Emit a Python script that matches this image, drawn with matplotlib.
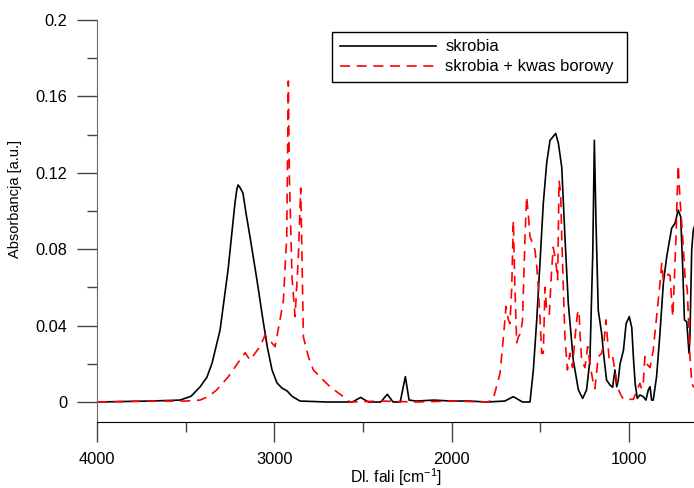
import numpy as np
import matplotlib
matplotlib.use("Agg")
import matplotlib.pyplot as plt
from matplotlib.ticker import FixedLocator, FuncFormatter

plt.rcParams['font.family'] = ['Liberation Sans', 'DejaVu Sans']
plt.rcParams['mathtext.default'] = 'regular'

# widmo skrobi (liczba falowa [cm-1], absorbancja)
wn_skrobia = [4000, 3701, 3600, 3532, 3470, 3419, 3380, 3351, 3306, 3261, 3240,
              3222, 3212, 3205, 3195, 3177, 3160, 3137, 3098, 3064, 3040, 3013,
              2985, 2957, 2928, 2900, 2855, 2700, 2560, 2513, 2470, 2400, 2363,
              2330, 2290, 2261, 2240, 2200, 2100, 2000, 1900, 1800, 1700, 1652,
              1600, 1558, 1539, 1520, 1501, 1483, 1464, 1445, 1427, 1413, 1398,
              1379, 1361, 1342, 1314, 1285, 1261, 1239, 1220, 1204, 1195, 1186,
              1173, 1154, 1145, 1135, 1126, 1107, 1092, 1079, 1069, 1060, 1050,
              1031, 1016, 998, 984, 975, 965, 953, 938, 919, 904, 891, 881, 872,
              863, 844, 825, 806, 787, 759, 740, 722, 708, 697, 687, 674, 661,
              656, 646, 637, 630]
abs_skrobia = [0.0, 0.0005, 0.0008, 0.001, 0.003, 0.0079, 0.013, 0.0204, 0.0377,
               0.0691, 0.088, 0.1042, 0.111, 0.1136, 0.1125, 0.1094, 0.099, 0.0864,
               0.0639, 0.0429, 0.029, 0.0168, 0.010, 0.0073, 0.0058, 0.003,
               0.0005, 0.0, 0.0, 0.0024, 0.0, 0.0, 0.004, 0.0, 0.0, 0.0133, 0.001,
               0.0005, 0.001, 0.0005, 0.0005, 0.0, 0.0005, 0.0028, 0.0, 0.0,
               0.0168, 0.043, 0.074, 0.104, 0.125, 0.137, 0.139, 0.1406, 0.1355,
               0.123, 0.0866, 0.0517, 0.022, 0.0063, 0.0019, 0.0063, 0.022, 0.078,
               0.137, 0.095, 0.048, 0.036, 0.027, 0.0185, 0.0115, 0.0089, 0.0077,
               0.0168, 0.008, 0.0115, 0.020, 0.027, 0.041, 0.0447, 0.039, 0.0237,
               0.0098, 0.0019, 0.0037, 0.0028, 0.001, 0.0063, 0.008, 0.001, 0.001,
               0.0133, 0.036, 0.062, 0.076, 0.091, 0.0936, 0.1005, 0.097, 0.071,
               0.043, 0.042, 0.0255, 0.034, 0.0796, 0.090, 0.092]

# widmo skrobi z kwasem borowym
wn_kwas = [4000, 3701, 3500, 3419, 3370, 3325, 3259, 3194, 3165, 3137, 3081, 3052,
           2996, 2968, 2949, 2930, 2921, 2915, 2900, 2883, 2865, 2851, 2836, 2808,
           2780, 2730, 2686, 2611, 2573, 2400, 2200, 2000, 1800, 1767, 1727,
           1708, 1693, 1680, 1671, 1661, 1652, 1643, 1633, 1624, 1611, 1600,
           1586, 1577, 1568, 1558, 1543, 1530, 1520, 1511, 1501, 1492, 1483,
           1473, 1464, 1449, 1436, 1427, 1413, 1402, 1394, 1385, 1379, 1370,
           1361, 1347, 1333, 1318, 1304, 1291, 1282, 1276, 1267, 1248, 1233,
           1220, 1201, 1192, 1173, 1154, 1141, 1130, 1122, 1111, 1101, 1092,
           1079, 1066, 1050, 1031, 975, 938, 929, 919, 910, 900, 881, 863, 844,
           825, 815, 806, 791, 778, 768, 759, 753, 746, 734, 727, 722, 712, 697,
           684, 671, 665, 656, 645, 637, 630]
abs_kwas = [0.0, 0.0005, 0.0005, 0.001, 0.003, 0.0063, 0.0133, 0.022, 0.0258, 0.022,
            0.029, 0.035, 0.029, 0.043, 0.053, 0.0866, 0.168, 0.118, 0.065,
            0.0447, 0.075, 0.112, 0.034, 0.0237, 0.0168, 0.012, 0.008, 0.0028,
            0.0, 0.0005, 0.0, 0.0005, 0.0, 0.001, 0.015, 0.034, 0.050, 0.043,
            0.041, 0.060, 0.095, 0.060, 0.031, 0.034, 0.036, 0.043, 0.0866,
            0.1075, 0.099, 0.0866, 0.083, 0.0796, 0.071, 0.060, 0.043, 0.0255,
            0.0255, 0.060, 0.048, 0.046, 0.069, 0.081, 0.074, 0.064, 0.116,
            0.109, 0.0866, 0.060, 0.034, 0.0168, 0.0255, 0.018, 0.034, 0.046,
            0.048, 0.036, 0.022, 0.018, 0.029, 0.020, 0.0098, 0.007, 0.0237,
            0.0255, 0.031, 0.043, 0.034, 0.022, 0.023, 0.0237, 0.0168, 0.008,
            0.0045, 0.0014, 0.0014, 0.0098, 0.007, 0.0098, 0.0237, 0.020, 0.018,
            0.027, 0.0447, 0.062, 0.0726, 0.064, 0.064, 0.067, 0.066, 0.053,
            0.0447, 0.059, 0.088, 0.111, 0.124, 0.106, 0.0866, 0.066, 0.059,
            0.0447, 0.0237, 0.0098, 0.008, 0.008]

x_major = [4000, 3000, 2000, 1000]
x_minor = [3500, 2500, 1500]
y_major = [0, 0.04, 0.08, 0.12, 0.16, 0.2]
y_minor = [0.02, 0.06, 0.10, 0.14, 0.18]

fig = plt.figure(figsize=(6.94, 4.88), dpi=100)
ax = fig.add_axes([0.1398, 0.1359, 0.8602, 0.8232])

ax.plot(wn_skrobia, abs_skrobia, color='black', lw=1.2, label='skrobia')
ax.plot(wn_kwas, abs_kwas, color='red', lw=1.2, dashes=(6, 4),
        label='skrobia + kwas borowy')

ax.set_xlim(4000, 633)
ax.set_ylim(-0.0103, 0.2)

for s in ['top', 'right']:
    ax.spines[s].set_visible(False)
ax.spines['left'].set_color('#666666')
ax.spines['left'].set_bounds(-0.0103, 0.2)
ax.spines['bottom'].set_color('black')

ax.xaxis.set_major_locator(FixedLocator(x_major))
ax.xaxis.set_minor_locator(FixedLocator(x_minor))
ax.yaxis.set_major_locator(FixedLocator(y_major))
ax.yaxis.set_minor_locator(FixedLocator(y_minor))
ax.yaxis.set_major_formatter(FuncFormatter(lambda v, p: '%g' % v))

ax.tick_params(axis='both', which='major', length=14.5, width=1.0,
               color='#444444', labelsize=11.8, direction='out')
ax.tick_params(axis='both', which='minor', length=7, width=1.0,
               color='#444444', direction='out')
ax.tick_params(axis='y', which='major', pad=7)
ax.tick_params(axis='x', which='major', pad=7)

ax.set_xlabel('Dl. fali [cm$^{-1}$]', fontsize=11.3, labelpad=0)
ax.set_ylabel('Absorbancja [a.u.]', fontsize=10.5)
ax.yaxis.set_label_coords(-0.125, 0.554)

leg = ax.legend(loc='upper left', bbox_to_anchor=(0.394, 0.826, 0.494, 0.144),
                mode='expand', borderaxespad=0, fontsize=11.9, handlelength=5.8,
                handletextpad=0.6, labelspacing=0.3, borderpad=0.45,
                fancybox=False, framealpha=1)
leg.get_frame().set_edgecolor('black')
leg.get_frame().set_linewidth(1.0)

fig.savefig('out.png', dpi=100)
